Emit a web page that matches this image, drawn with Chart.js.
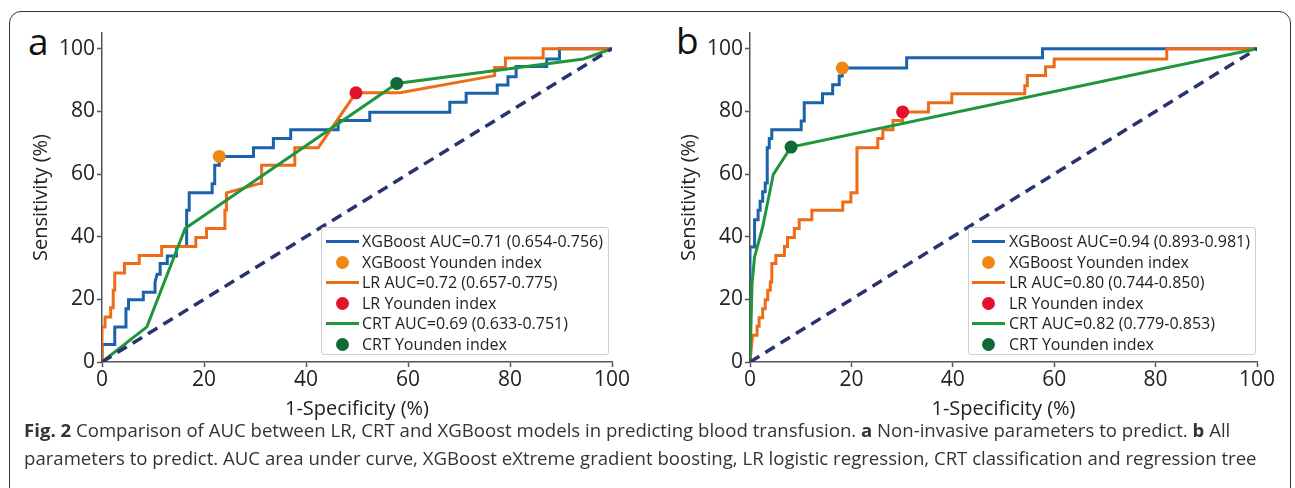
<!DOCTYPE html>
<html>
<head>
<meta charset="utf-8">
<script src="https://cdn.jsdelivr.net/npm/chart.js@4.4.1/dist/chart.umd.min.js"></script>
<style>
  html, body { margin: 0; padding: 0; background: #fff; }
  body { width: 1295px; height: 488px; position: relative; overflow: hidden; font-family: "Open Sans", sans-serif; }
  #frame { position: absolute; left: 9px; top: 11px; width: 1282px; height: 500px; border: 1.5px solid #333; border-radius: 12px; box-sizing: border-box; }
  .panel { position: absolute; }
  .tag { position: absolute; font-size: 37px; line-height: 37px; color: #111; }
  .legend { position: absolute; width: 288px; height: 128px; border: 1px solid #cfcfcf; border-radius: 3px; background: rgba(255,255,255,0.85); box-sizing: border-box; font-size: 16px; color: #222; }
  .row { position: absolute; left: 0; height: 20px; line-height: 20px; white-space: nowrap; }
  .row .txt { position: absolute; top: 0; }
  .row .ln { position: absolute; top: 9px; height: 3px; }
  .row .dot { position: absolute; top: 4px; width: 13px; height: 13px; border-radius: 50%; }
  #caption { position: absolute; left: 24px; top: 416px; font-size: 18.6px; color: #333; line-height: 28px; white-space: nowrap; }
</style>
</head>
<body>
<div id="frame"></div>
<div class="tag" style="left:28px; top:22px;">a</div>
<div class="tag" style="left:676px; top:21px;">b</div>
<canvas id="chartA" class="panel" style="left:12px; top:14px;" width="628" height="407"></canvas>
<canvas id="chartB" class="panel" style="left:660px; top:14px;" width="628" height="407"></canvas>
<div id="legendA" class="legend" style="left:321px; top:227px;"></div>
<div id="legendB" class="legend" style="left:968px; top:227px;"></div>
<div id="caption">
  <div><b>Fig. 2</b> Comparison of AUC between LR, CRT and XGBoost models in predicting blood transfusion. <b>a</b> Non-invasive parameters to predict. <b>b</b> All</div>
  <div>parameters to predict. AUC area under curve, XGBoost eXtreme gradient boosting, LR logistic regression, CRT classification and regression tree</div>
</div>
<script>
"use strict";

// tick labels
const xTicks = [0, 20, 40, 60, 80, 100];
const yTicks = [0, 20, 40, 60, 80, 100];

// panel a - non-invasive parameters (1-specificity %, sensitivity %)
const xgbA_x = [0, 0, 2.5, 2.5, 4.7, 4.7, 5.2, 5.2, 8.1, 8.1, 10.4, 10.4, 10.8, 11.4, 11.4, 12.8, 12.8, 14.6, 14.6, 16.6, 16.6, 17.1, 17.1, 21.6, 21.6, 22.1, 22.1, 23, 23, 29.7, 29.7, 33.6, 33.6, 37, 37, 46.3, 46.3, 52.5, 52.5, 68.2, 68.2, 71.4, 71.4, 77.5, 77.5, 79.6, 79.6, 81.2, 81.2, 87.2, 87.2, 89.7, 89.7, 100];
const xgbA_y = [0, 5.6, 5.6, 11.2, 11.2, 17, 17, 19.9, 19.9, 22.3, 22.3, 25.5, 28, 28, 31.4, 31.4, 33.8, 33.8, 36.9, 36.9, 48.4, 48.4, 54, 54, 56.9, 56.9, 62.8, 62.8, 65.6, 65.6, 68.4, 68.4, 71.3, 71.3, 74.1, 74.1, 77.1, 77.1, 79.7, 79.7, 82.9, 82.9, 85.8, 85.8, 88.4, 88.4, 91, 91, 94.3, 94.3, 96.7, 96.7, 100, 100];
const lrA_x = [0, 0, 0.6, 0.6, 1.7, 1.7, 2.2, 2.2, 2.5, 2.5, 4.4, 4.4, 7.3, 7.3, 11.7, 11.7, 18.4, 18.4, 20.5, 20.5, 24.1, 24.1, 24.4, 24.4, 31, 31.3, 31.3, 37.8, 37.8, 42.4, 49.8, 58.4, 77, 77, 79.1, 79.1, 86.5, 86.5, 100];
const lrA_y = [0, 11.2, 11.2, 14.4, 14.4, 17.3, 17.3, 22.9, 22.9, 28.4, 28.4, 31.4, 31.4, 34, 34, 36.9, 36.9, 39.7, 39.7, 42.6, 42.6, 48.4, 48.4, 54, 57, 57, 62.8, 62.8, 68.4, 68.4, 85.9, 85.9, 91.4, 94, 94, 97, 97, 100, 100];
const crtA_x = [0, 8.8, 16.3, 57.8, 94.4, 100];
const crtA_y = [0, 11.2, 42.6, 88.9, 96.7, 100];
const youdenA_x = [23, 49.8, 57.8];   // XGBoost, LR, CRT
const youdenA_y = [65.6, 85.9, 88.9];

// panel b - all parameters
const xgbB_x = [0, 0, 0.9, 0.9, 1.6, 1.6, 2, 2, 2.5, 2.5, 3, 3, 3.4, 3.4, 3.8, 3.8, 4.3, 4.3, 10.1, 10.1, 10.7, 10.7, 14.3, 14.3, 16.3, 16.3, 17.6, 17.6, 18.2, 18.2, 30.9, 30.9, 57.7, 57.7, 100];
const xgbB_y = [0, 36.7, 36.7, 45.4, 45.4, 48.4, 48.4, 51.3, 51.3, 54.3, 54.3, 57.1, 57.1, 68.4, 68.4, 71.3, 71.3, 74.1, 74.1, 76.9, 76.9, 82.7, 82.7, 85.6, 85.6, 88.5, 88.5, 91.3, 91.3, 93.8, 93.8, 97.1, 97.1, 100, 100];
const lrB_x = [0, 0.5, 1.4, 1.4, 1.8, 1.8, 2.5, 2.5, 3, 3, 3.5, 3.5, 4, 4, 4.3, 4.3, 5.1, 5.1, 6.8, 6.8, 7.4, 7.4, 8.75, 8.75, 9.7, 9.7, 12.2, 12.2, 18.3, 18.3, 19.9, 19.9, 21.1, 21.1, 25.2, 25.2, 26.2, 26.2, 28.2, 28.2, 30.1, 30.1, 35.2, 35.2, 39.8, 39.8, 54.2, 54.2, 54.7, 54.7, 58.3, 58.3, 60, 60, 82.2, 82.2, 100];
const lrB_y = [0, 8.5, 8.5, 11.4, 11.4, 14.1, 14.1, 17, 17, 19.9, 19.9, 22.9, 22.9, 25.5, 25.5, 31.4, 31.4, 34, 34, 36.9, 36.9, 39.7, 39.7, 42.6, 42.6, 45.4, 45.4, 48.4, 48.4, 51.1, 51.1, 54, 54, 68.4, 68.4, 71.3, 71.3, 74.1, 74.1, 77.1, 77.1, 79.8, 79.8, 82.7, 82.7, 85.6, 85.6, 88.2, 88.2, 91.4, 91.4, 94.2, 94.2, 96.7, 96.7, 100, 100];
const crtB_x = [0, 0.4, 0.9, 2.5, 4.6, 8.1, 100];
const crtB_y = [0, 25, 33.5, 43.1, 59.9, 68.6, 100];
const youdenB_x = [18.2, 30.1, 8.1];
const youdenB_y = [93.8, 79.8, 68.6];

const refLine = [0, 100];

const legendA = ["XGBoost AUC=0.71 (0.654-0.756)", "XGBoost Younden index", "LR AUC=0.72 (0.657-0.775)", "LR Younden index", "CRT AUC=0.69 (0.633-0.751)", "CRT Younden index"];
const legendB = ["XGBoost AUC=0.94 (0.893-0.981)", "XGBoost Younden index", "LR AUC=0.80 (0.744-0.850)", "LR Younden index", "CRT AUC=0.82 (0.779-0.853)", "CRT Younden index"];

const BLUE = "#1b62ab", ORANGE = "#ee6c17", GREEN = "#1f963c", NAVY = "#28336f";
const DOT_XGB = "#ee8714", DOT_LR = "#e2122c", DOT_CRT = "#0e6b35";

const pts = (xs, ys) => xs.map((x, i) => ({ x: x, y: ys[i] }));

const lineSet = (label, xs, ys, color, order) => ({
    label: label, data: pts(xs, ys), showLine: true, borderColor: color,
    borderWidth: 3, pointRadius: 0, fill: false, order: order
});

const dotSet = (label, x, y, color) => ({
    label: label, data: [{ x: x, y: y }], showLine: false, pointRadius: 6.5,
    pointBackgroundColor: color, pointBorderWidth: 0, order: 0
});

const buildDatasets = (labels, xgb, lr, crt, yx, yy) => [
    lineSet(labels[0], xgb[0], xgb[1], BLUE, 4),
    dotSet(labels[1], yx[0], yy[0], DOT_XGB),
    lineSet(labels[2], lr[0], lr[1], ORANGE, 3),
    dotSet(labels[3], yx[1], yy[1], DOT_LR),
    lineSet(labels[4], crt[0], crt[1], GREEN, 2),
    dotSet(labels[5], yx[2], yy[2], DOT_CRT),
    {
        label: "reference", data: pts(refLine, refLine), showLine: true, borderColor: NAVY,
        borderWidth: 3.5, borderDash: [11, 7], pointRadius: 0, order: 1
    }
];

const tickFont = { family: "Open Sans", size: 21 };
const titleFont = { family: "Open Sans", size: 20 };

const makeChart = (id, datasets, rightPad) => new Chart(document.getElementById(id), {
    type: "scatter",
    data: { datasets: datasets },
    options: {
        responsive: false,
        animation: false,
        layout: { padding: { left: 17, top: 19, right: rightPad, bottom: 0 } },
        plugins: { legend: { display: false }, tooltip: { enabled: false } },
        scales: {
            x: {
                type: "linear", min: 0, max: 100,
                afterBuildTicks: (s) => { s.ticks = xTicks.map((v) => ({ value: v })); },
                afterFit: (s) => { s.height = 59; },
                grid: { drawOnChartArea: false, tickLength: 5, tickWidth: 1.5, tickColor: "#555" },
                border: { color: "#555", width: 1.5 },
                ticks: { color: "#222", font: tickFont, padding: 0 },
                title: { display: true, text: "1-Specificity (%)", color: "#222", font: titleFont, padding: { top: 0, bottom: 0 } }
            },
            y: {
                type: "linear", min: 0, max: 105,
                afterBuildTicks: (s) => { s.ticks = yTicks.map((v) => ({ value: v })); },
                afterFit: (s) => { s.width = 73; },
                grid: { drawOnChartArea: false, tickLength: 5, tickWidth: 1.5, tickColor: "#555" },
                border: { color: "#555", width: 1.5 },
                ticks: { color: "#222", font: tickFont, padding: 2 },
                title: { display: true, text: "Sensitivity (%)", color: "#222", font: titleFont, padding: { top: 0, bottom: 4 } }
            }
        }
    }
});

const fillLegend = (id, chart, sampleLeft, textLeft) => {
    const box = document.getElementById(id);
    chart.data.datasets.slice(0, 6).forEach((ds, i) => {
        const row = document.createElement("div");
        row.className = "row";
        row.style.top = (3 + i * 20.6) + "px";
        row.style.width = "100%";
        const mark = document.createElement("div");
        if (ds.showLine) {
            mark.className = "ln";
            mark.style.left = sampleLeft + "px";
            mark.style.width = "33px";
            mark.style.background = ds.borderColor;
        } else {
            mark.className = "dot";
            mark.style.left = (sampleLeft + 10) + "px";
            mark.style.background = ds.pointBackgroundColor;
        }
        const txt = document.createElement("span");
        txt.className = "txt";
        txt.style.left = textLeft + "px";
        txt.textContent = ds.label;
        row.appendChild(mark);
        row.appendChild(txt);
        box.appendChild(row);
    });
};

const chartA = makeChart("chartA", buildDatasets(legendA, [xgbA_x, xgbA_y], [lrA_x, lrA_y], [crtA_x, crtA_y], youdenA_x, youdenA_y), 28);
const chartB = makeChart("chartB", buildDatasets(legendB, [xgbB_x, xgbB_y], [lrB_x, lrB_y], [crtB_x, crtB_y], youdenB_x, youdenB_y), 31);

fillLegend("legendA", chartA, 4, 40);
fillLegend("legendB", chartB, 3, 40);
</script>
</body>
</html>
